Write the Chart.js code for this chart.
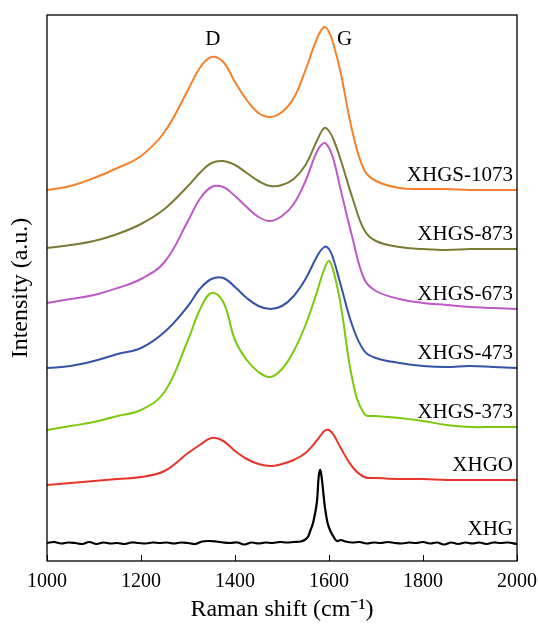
<!DOCTYPE html>
<html>
<head>
<meta charset="utf-8">
<script src="https://cdn.jsdelivr.net/npm/chart.js@4"></script>
<style>
  html, body { margin: 0; padding: 0; background: #fff; }
  #wrap { width: 538px; height: 624px; }
</style>
</head>
<body>
<div id="wrap"><canvas id="raman" width="538" height="624"></canvas></div>
<script>
// Raman shift grid (cm-1) shared by the broad spectra
const shift = [1000, 1050, 1100, 1150, 1200, 1250, 1300, 1325, 1350, 1375, 1400, 1425, 1450, 1475, 1500, 1525,
               1550, 1575, 1590, 1600, 1610, 1625, 1650, 1675, 1700, 1750, 1800, 1850, 1900, 1950, 2000];

// stacked intensities (a.u.)
const xhgs1073 = [371, 375, 383, 393, 405, 429, 471, 493, 504, 499, 479, 461, 448, 444, 449, 463,
                  491, 523, 534, 529, 516, 488, 429, 391, 380, 373, 372, 372, 371, 371, 371];
const xhgs873  = [313, 316, 320, 327, 337, 352, 375, 388, 398, 400, 396, 388, 380, 375, 376, 382,
                  396, 421, 433, 430, 421, 401, 363, 331, 320, 314, 312, 311, 312, 312, 312];
const xhgs673  = [258, 262, 266, 273, 282, 299, 340, 362, 374, 374, 365, 354, 344, 340, 345, 357,
                  380, 410, 418, 413, 401, 371, 323, 282, 270, 262, 258, 256, 254, 253, 252];
const xhgs473  = [193, 195, 200, 207, 213, 229, 255, 272, 282, 283, 274, 263, 255, 252, 255, 265,
                  282, 305, 314, 312, 301, 276, 235, 210, 203, 198, 195, 194, 195, 194, 193];
const xhgs373  = [131, 135, 139, 145, 151, 169, 221, 251, 268, 259, 221, 201, 189, 184, 192, 210,
                  236, 270, 292, 300, 289, 256, 181, 147, 145, 143, 140, 136, 134, 134, 134];
const xhgo     = [76, 78, 80, 82, 84, 90, 108, 116, 123, 120, 110, 102, 97, 95, 97, 101,
                  108, 121, 130, 131, 126, 113, 94, 84, 83, 82, 82, 81, 81, 81, 81];

// XHG is sharp and noisy, so it has its own grid
const xhgShift = [1000, 1015, 1030, 1045, 1060, 1075, 1090, 1105, 1120, 1135, 1150, 1165, 1180, 1195, 1210, 1225,
                  1240, 1255, 1270, 1285, 1300, 1315, 1330, 1345, 1360, 1375, 1390, 1405, 1420, 1435, 1450, 1465,
                  1480, 1495, 1510, 1525, 1540, 1548, 1555, 1560, 1566, 1574, 1578, 1581, 1584, 1588, 1591, 1597,
                  1603, 1610, 1617, 1625, 1635, 1650, 1665, 1680, 1695, 1710, 1725, 1740, 1755, 1770, 1785, 1800,
                  1815, 1830, 1845, 1860, 1875, 1890, 1905, 1920, 1935, 1950, 1965, 1980, 2000];
const xhg      = [18, 19, 17.5, 18.5, 18, 17, 19, 17, 18.5, 17.5, 18, 17, 18.5, 18, 17.5, 18.5,
                  18, 18.5, 17.5, 18.5, 18, 17, 19.5, 20, 19.5, 18.5, 18, 18.5, 16.5, 18.5, 17.5, 18.5,
                  18, 19, 18.5, 19, 19.5, 21, 24, 30, 38, 58, 84, 91, 85, 68, 55, 38,
                  30, 24, 20, 21, 19.5, 18.5, 19, 17.5, 18.5, 18, 19, 18, 17.5, 18.5, 18, 19,
                  17.5, 18.5, 16.5, 18.5, 17, 18.5, 17.5, 18.5, 17, 18.5, 18, 18.5, 17];

const names  = ['XHGS-1073', 'XHGS-873', 'XHGS-673', 'XHGS-473', 'XHGS-373', 'XHGO', 'XHG'];
const colors = ['#f7802a', '#7b7b35', '#bd5ac6', '#3552a6', '#7cc80c', '#e6352a', '#000000'];
const xTicks = [1000, 1200, 1400, 1600, 1800, 2000];
const peaks  = [{ text: 'D', x: 1353, y: 516, align: 'center' }, { text: 'G', x: 1617, y: 516, align: 'left' }];

const SERIF = "'Liberation Serif', 'Times New Roman', serif";

const toPoints = (xs, ys) => xs.map((x, i) => ({ x: x, y: ys[i] }));
const allSeries = [
  toPoints(shift, xhgs1073), toPoints(shift, xhgs873), toPoints(shift, xhgs673),
  toPoints(shift, xhgs473), toPoints(shift, xhgs373), toPoints(shift, xhgo), toPoints(xhgShift, xhg)
];

const datasets = allSeries.map((pts, i) => ({
  label: names[i],
  data: pts,
  borderColor: colors[i],
  borderWidth: i === 6 ? 2.2 : 2,
  pointRadius: 0,
  fill: false,
  tension: 0.4
}));

// frame, inward ticks, curve labels, D / G marks
const decorations = {
  id: 'decorations',
  afterDraw(chart) {
    const { ctx, chartArea: a, scales: { x, y } } = chart;
    ctx.save();
    ctx.strokeStyle = '#000';
    ctx.lineWidth = 1.3;
    ctx.strokeRect(a.left, a.top, a.right - a.left, a.bottom - a.top);
    ctx.beginPath();
    xTicks.forEach(v => {
      const px = Math.round(x.getPixelForValue(v)) + 0.5;
      ctx.moveTo(px, a.bottom);
      ctx.lineTo(px, a.bottom - 6);
    });
    ctx.lineWidth = 1;
    ctx.stroke();

    ctx.fillStyle = '#000';
    ctx.font = '21px ' + SERIF;
    ctx.textAlign = 'right';
    ctx.textBaseline = 'alphabetic';
    allSeries.forEach((pts, i) => {
      const last = pts[pts.length - 1];
      ctx.fillText(names[i], a.right - 4, y.getPixelForValue(last.y) - 9);
    });

    peaks.forEach(p => {
      ctx.textAlign = p.align;
      ctx.fillText(p.text, x.getPixelForValue(p.x), y.getPixelForValue(p.y));
    });
    ctx.restore();
  }
};

new Chart(document.getElementById('raman'), {
  type: 'line',
  data: { datasets: datasets },
  options: {
    responsive: false,
    animation: false,
    layout: { padding: { top: 15, right: 21, left: 0, bottom: 0 } },
    plugins: { legend: { display: false }, tooltip: { enabled: false } },
    scales: {
      x: {
        type: 'linear',
        min: 1000,
        max: 2000,
        afterFit: s => { s.height = 63; s.paddingLeft = 0; s.paddingRight = 0; },
        afterBuildTicks: s => { s.ticks = xTicks.map(v => ({ value: v })); },
        grid: { display: false, drawTicks: false },
        border: { display: false },
        ticks: { color: '#000', padding: 9, maxRotation: 0, callback: v => String(v), font: { family: SERIF, size: 20 } },
        title: {
          display: true,
          text: 'Raman shift (cm\u207B\u00B9)',
          color: '#000',
          padding: { top: 0, bottom: 0 },
          font: { family: SERIF, size: 24 }
        }
      },
      y: {
        min: 0,
        max: 546,
        afterFit: s => { s.width = 47; },
        grid: { display: false, drawTicks: false },
        border: { display: false },
        ticks: { display: false },
        title: {
          display: true,
          text: 'Intensity (a.u.)',
          color: '#000',
          padding: { top: 6, bottom: 0 },
          font: { family: SERIF, size: 24 }
        }
      }
    }
  },
  plugins: [decorations]
});
</script>
</body>
</html>
